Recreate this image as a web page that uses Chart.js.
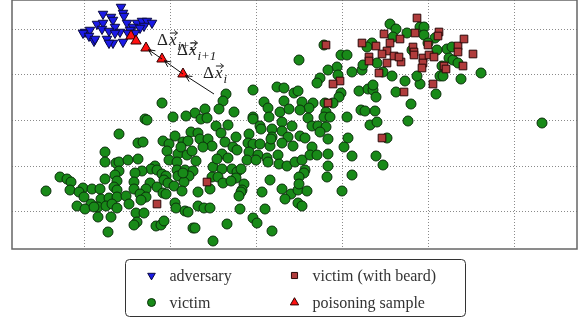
<!DOCTYPE html>
<html>
<head>
<meta charset="utf-8">
<script src="https://cdn.jsdelivr.net/npm/chart.js@4.4.0/dist/chart.umd.min.js"></script>
<style>
html, body { margin: 0; padding: 0; background: #fff; }
#wrap { width: 582px; height: 318px; position: relative; }
</style>
</head>
<body>
<div id="wrap"><canvas id="myChart"></canvas></div>
<script>
// series names (legend order)
var seriesNames = ['adversary', 'victim', 'victim (with beard)', 'poisoning sample'];

// grid positions (no tick labels in the picture)
var xGrid = [72, 158, 244, 330, 416, 502];
var yGrid = [37.5, 83, 128.5, 174, 219.5];

var adversary = [
  [109,242],[111,236],[91,235],[99,232],[101,229],[112,233],[85,225],[91,226],[103,222],[115,226],
  [125,226],[130,228],[135,228],[140,226],[132,223],[121,222],[73,217],[78,219],[90,220],[97,218],
  [108,217],[118,219],[128,221],[123,216],[71,216],[77,213],[82,208],[95,210],[101,206],[111,207],
  [97,206],[116,216],[103,216],[83,210]
];

var victim = [
  [150,146],[133,130],[135,129],[161,132],[107,115],[163,113],[126,106],[131,107],[151,108],[157,105],
  [155,98],[93,97],[166,95],[93,87],[104,86],[107,87],[116,89],[126,90],[157,89],[165,87],
  [143,83],[139,80],[145,79],[130,78],[165,79],[107,78],[103,74],[123,76],[150,75],[154,73],
  [166,73],[48,72],[55,70],[59,67],[93,70],[105,68],[122,67],[138,66],[152,69],[156,66],
  [58,59],[34,58],[71,61],[80,60],[88,60],[102,62],[105,59],[122,60],[134,60],[145,62],
  [162,63],[67,57],[72,52],[89,50],[97,51],[105,52],[114,53],[128,55],[134,52],[151,56],
  [154,55],[129,49],[117,45],[65,43],[79,45],[86,42],[94,43],[100,45],[105,41],[73,40],
  [82,42],[163,46],[164,41],[124,36],[132,36],[86,32],[99,32],[125,27],[122,24],[144,23],
  [149,24],[152,28],[96,17],
  [214,155],[241,159],[265,162],[272,161],[282,156],[286,158],[211,148],[207,140],[222,137],[193,140],
  [183,136],[174,133],[189,130],[195,131],[241,132],[241,130],[252,147],[256,141],[268,137],[272,148],
  [277,140],[257,132],[204,123],[216,124],[248,123],[260,120],[270,127],[280,123],[179,117],[186,116],
  [209,116],[224,112],[237,115],[249,120],[260,112],[270,118],[276,112],[171,107],[176,108],[188,110],
  [196,110],[200,103],[213,107],[221,102],[225,99],[236,106],[241,105],[248,105],[258,103],[259,110],
  [270,106],[281,103],[169,102],[175,94],[180,98],[191,102],[210,95],[216,91],[237,97],[246,94],
  [235,89],[244,89],[255,91],[256,87],[266,94],[267,85],[275,83],[283,87],[184,88],[201,82],
  [205,90],[210,80],[220,80],[225,77],[229,80],[173,79],[181,78],[177,73],[172,67],[200,72],
  [206,72],[211,66],[224,71],[232,65],[219,68],[198,60],[186,57],[170,58],[230,59],[229,57],
  [227,53],[250,57],[258,69],[270,60],[279,55],[273,50],[286,59],[286,46],[186,43],[192,41],
  [198,41],[173,38],[176,37],[228,40],[253,40],[241,31],[245,26],[215,25],[181,21],[183,21],
  [260,18],[201,8],[171,76],
  [287,189],[312,204],[329,194],[335,194],[325,182],[316,179],[340,177],[350,179],[351,184],[365,186],
  [326,174],[308,171],[305,166],[329,156],[327,152],[347,158],[356,160],[361,159],[361,164],[364,152],
  [384,157],[393,168],[399,145],[371,177],[380,173],[290,147],[301,146],[313,146],[321,146],[297,141],
  [288,139],[314,137],[312,132],[318,132],[296,131],[335,132],[349,139],[353,138],[363,138],[358,124],
  [365,127],[396,128],[300,123],[306,123],[314,122],[308,117],[288,113],[293,111],[316,110],[336,111],
  [375,111],[300,102],[332,102],[316,95],[340,93],[364,93],[371,84],[290,89],[298,94],[305,94],
  [316,83],[293,79],[292,76],[315,72],[340,74],[287,72],[287,65],[330,58],[295,58],[290,43],
  [378,225],[384,220],[408,222],[412,222],[412,214],[395,216],[381,212],[360,206],[355,202],[423,211],
  [416,206],[435,200],[440,202],[425,199],[400,199],[437,191],[441,189],[446,186],[430,183],[428,173],
  [431,173],[449,170],[469,176],[424,155],[408,165],[405,173],[530,126]
];

var victimBeard = [
  [145,45],[195,67],[314,204],[350,206],[364,203],[378,206],[357,192],[357,188],[375,198],[370,195],
  [382,193],[375,186],[389,187],[367,176],[328,168],[321,165],[392,157],[316,146],[370,111],[405,231],
  [372,215],[388,210],[403,216],[427,217],[426,213],[401,202],[402,197],[402,194],[411,191],[411,186],
  [416,204],[417,194],[422,192],[410,181],[432,183],[434,180],[446,203],[446,197],[452,210],[461,195],
  [451,183],[421,165],[387,192]
];

var poisoning = [[119,213],[124,208],[134,201],[150,190],[171,175]];

// gradient step arrows: start point, then through the poisoning samples
var stepStart = [202,155];
var stepLabels = ['i+2', 'i+1', 'i'];
var stepLabelPos = [[145,204],[165,194],[191,171]];

var styles = [
  { pointStyle: 'triangle', rotation: 180, radius: 5.5, backgroundColor: '#1a1ae6', borderColor: '#0a0a40' },
  { pointStyle: 'circle', rotation: 0, radius: 5, backgroundColor: '#188a18', borderColor: '#0b300b' },
  { pointStyle: 'rect', rotation: 0, radius: 5.4, backgroundColor: '#b03c3c', borderColor: '#2a0808' },
  { pointStyle: 'triangle', rotation: 0, radius: 6, backgroundColor: '#ff1010', borderColor: '#300000' }
];

function toPts(arr) {
  return arr.map(function (p) { return { x: p[0], y: p[1] }; });
}

function makeSet(i, data, order) {
  var s = styles[i];
  return {
    label: seriesNames[i],
    data: toPts(data),
    order: order,
    pointStyle: s.pointStyle,
    pointRotation: s.rotation,
    pointRadius: s.radius,
    pointHoverRadius: s.radius,
    pointBackgroundColor: s.backgroundColor,
    pointBorderColor: s.borderColor,
    pointBorderWidth: 1,
    showLine: false,
    clip: false
  };
}

// frame around the plot
var framePlugin = {
  id: 'frame',
  afterDatasetsDraw: function (chart) {
    var a = chart.chartArea, ctx = chart.ctx;
    ctx.save();
    ctx.strokeStyle = '#666';
    ctx.lineWidth = 1.5;
    ctx.strokeRect(a.left, a.top, a.right - a.left, a.bottom - a.top);
    ctx.restore();
  }
};

function arrowLine(ctx, x1, y1, x2, y2) {
  var ang = Math.atan2(y2 - y1, x2 - x1);
  var ex = x2 - Math.cos(ang) * 3, ey = y2 - Math.sin(ang) * 3;
  ctx.beginPath();
  ctx.moveTo(x1, y1);
  ctx.lineTo(ex, ey);
  ctx.stroke();
  ctx.beginPath();
  ctx.moveTo(ex - Math.cos(ang - 0.45) * 7, ey - Math.sin(ang - 0.45) * 7);
  ctx.lineTo(ex, ey);
  ctx.lineTo(ex - Math.cos(ang + 0.45) * 7, ey - Math.sin(ang + 0.45) * 7);
  ctx.stroke();
}

function deltaLabel(ctx, x, y, sub) {
  ctx.font = '17px "Liberation Serif", serif';
  ctx.fillText('\u0394', x, y);
  var w = ctx.measureText('\u0394').width;
  ctx.font = 'italic 17px "Liberation Serif", serif';
  ctx.fillText('x', x + w + 1, y);
  var xw = ctx.measureText('x').width;
  // vector arrow over x
  var ax = x + w + 2, ay = y - 12;
  ctx.beginPath();
  ctx.moveTo(ax, ay);
  ctx.lineTo(ax + xw, ay);
  ctx.moveTo(ax + xw - 3, ay - 2.5);
  ctx.lineTo(ax + xw, ay);
  ctx.lineTo(ax + xw - 3, ay + 2.5);
  ctx.stroke();
  ctx.font = 'italic 13px "Liberation Serif", serif';
  ctx.fillText(sub, x + w + xw + 2, y + 5);
}

var stepPlugin = {
  id: 'steps',
  afterDatasetsDraw: function (chart) {
    var xs = chart.scales.x, ys = chart.scales.y, ctx = chart.ctx;
    var path = [stepStart, poisoning[4], poisoning[3], poisoning[2]];
    ctx.save();
    ctx.strokeStyle = '#111';
    ctx.lineWidth = 1;
    for (var i = 0; i < path.length - 1; i++) {
      arrowLine(ctx,
        xs.getPixelForValue(path[i][0]), ys.getPixelForValue(path[i][1]),
        xs.getPixelForValue(path[i + 1][0]), ys.getPixelForValue(path[i + 1][1]));
    }
    ctx.fillStyle = '#222';
    ctx.strokeStyle = '#222';
    ctx.textBaseline = 'alphabetic';
    stepLabels.forEach(function (s, k) {
      deltaLabel(ctx, xs.getPixelForValue(stepLabelPos[k][0]), ys.getPixelForValue(stepLabelPos[k][1]), s);
    });
    ctx.restore();
  }
};

// boxed two-column legend under the plot
var legendPlugin = {
  id: 'boxLegend',
  afterDraw: function (chart) {
    var ctx = chart.ctx, a = chart.chartArea;
    var cx = (a.left + a.right) / 2;
    var bx = Math.round(cx - 170) + 0.5, by = 259.5, bw = 340, bh = 57;
    ctx.save();
    ctx.fillStyle = '#fff';
    ctx.strokeStyle = '#333';
    ctx.lineWidth = 1;
    ctx.beginPath();
    ctx.roundRect(bx, by, bw, bh, 4);
    ctx.fill();
    ctx.stroke();
    var cells = [[0, 0, 0], [1, 0, 1], [2, 1, 0], [3, 1, 1]];
    ctx.font = '16px "Liberation Serif", serif';
    ctx.textBaseline = 'middle';
    cells.forEach(function (c) {
      var s = styles[c[0]];
      var mx = bx + 26 + c[1] * 143, my = by + 16 + c[2] * 27;
      ctx.fillStyle = s.backgroundColor;
      ctx.strokeStyle = s.borderColor;
      ctx.lineWidth = 1;
      Chart.helpers.drawPoint(ctx, {
        pointStyle: s.pointStyle, rotation: s.rotation,
        radius: s.radius * 0.8, borderWidth: 1
      }, mx, my);
      ctx.fillStyle = '#333';
      ctx.fillText(seriesNames[c[0]], mx + 18, my + 1);
    });
    ctx.restore();
  }
};

var gridOpts = { color: '#8a8a8a', lineWidth: 1, drawTicks: false };

var ctx = document.getElementById('myChart').getContext('2d');
var chart = new Chart(ctx, {
  type: 'scatter',
  data: {
    datasets: [
      makeSet(0, adversary, 1),
      makeSet(1, victim, 3),
      makeSet(2, victimBeard, 2),
      makeSet(3, poisoning, 0)
    ]
  },
  options: {
    responsive: true,
    maintainAspectRatio: false,
    animation: false,
    devicePixelRatio: 1,
    layout: { autoPadding: false, padding: { left: 12, right: 5, top: 0, bottom: 69 } },
    plugins: {
      legend: { display: false },
      tooltip: { enabled: false }
    },
    scales: {
      x: {
        type: 'linear', min: 0, max: 565,
        afterBuildTicks: function (s) { s.ticks = xGrid.map(function (v) { return { value: v }; }); },
        ticks: { display: false },
        grid: gridOpts,
        border: { display: false, dash: [1, 2] }
      },
      y: {
        type: 'linear', min: 0, max: 249,
        afterBuildTicks: function (s) { s.ticks = yGrid.map(function (v) { return { value: v }; }); },
        ticks: { display: false },
        grid: gridOpts,
        border: { display: false, dash: [1, 2] }
      }
    }
  },
  plugins: [framePlugin, stepPlugin, legendPlugin]
});
</script>
</body>
</html>
